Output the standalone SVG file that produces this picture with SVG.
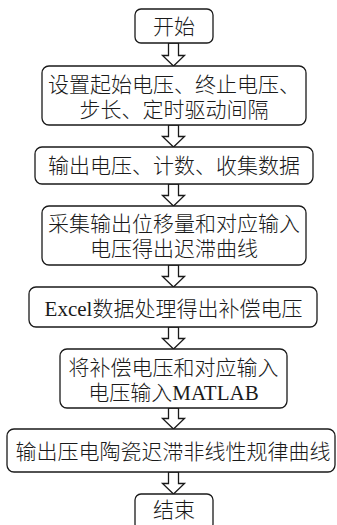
<svg xmlns="http://www.w3.org/2000/svg" width="337" height="525" viewBox="0 0 337 525">
<style>
.box{fill:#fff;stroke:#1a1a1a;stroke-width:1.3}
.t{font-family:"Liberation Serif","Noto Sans CJK SC",serif;font-size:21px;font-weight:300;fill:#1a1a1a;text-anchor:middle}
.arr{fill:#fff;stroke:#1a1a1a;stroke-width:1.3;stroke-linejoin:miter}
</style>
<rect width="337" height="525" fill="#fff"/>
<g id="connectors">
<path class="arr" d="M168.5,43 H178.5 V55.5 H184.5 L173.5,66 L162.5,55.5 H168.5 Z"/>
<path class="arr" d="M168.5,125 H178.5 V136.5 H184.5 L173.5,147 L162.5,136.5 H168.5 Z"/>
<path class="arr" d="M168.5,184 H178.5 V195.5 H184.5 L173.5,206 L162.5,195.5 H168.5 Z"/>
<path class="arr" d="M168.5,265 H178.5 V276.5 H184.5 L173.5,287 L162.5,276.5 H168.5 Z"/>
<path class="arr" d="M168.5,327 H178.5 V338.5 H184.5 L173.5,349 L162.5,338.5 H168.5 Z"/>
<path class="arr" d="M168.5,408 H178.5 V418.5 H184.5 L173.5,429 L162.5,418.5 H168.5 Z"/>
<path class="arr" d="M168.5,472 H178.5 V483.5 H184.5 L173.5,494 L162.5,483.5 H168.5 Z"/>
</g>
<g id="start">
<rect class="box" x="135" y="9" width="78" height="34" rx="6"/>
<text class="t" x="174" y="34">开始</text>
</g>
<g id="setup">
<rect class="box" x="42" y="66" width="264" height="59" rx="7"/>
<text class="t" x="174" y="92">设置起始电压、终止电压、</text>
<text class="t" x="174" y="116.5">步长、定时驱动间隔</text>
</g>
<g id="output">
<rect class="box" x="35" y="147" width="278" height="37" rx="7"/>
<text class="t" x="174" y="173">输出电压、计数、收集数据</text>
</g>
<g id="collect">
<rect class="box" x="42" y="206" width="264" height="59" rx="7"/>
<text class="t" x="174" y="231">采集输出位移量和对应输入</text>
<text class="t" x="174" y="256">电压得出迟滞曲线</text>
</g>
<g id="excel">
<rect class="box" x="29" y="287" width="288" height="40" rx="7"/>
<text class="t" x="173.5" y="316">Excel数据处理得出补偿电压</text>
</g>
<g id="matlab">
<rect class="box" x="60" y="349" width="227" height="59" rx="7"/>
<text class="t" x="173.5" y="375">将补偿电压和对应输入</text>
<text class="t" x="173.5" y="399.5">电压输入MATLAB</text>
</g>
<g id="curve">
<rect class="box" x="7" y="429" width="328" height="43" rx="7"/>
<text class="t" x="173" y="459">输出压电陶瓷迟滞非线性规律曲线</text>
</g>
<g id="end">
<rect class="box" x="135" y="494" width="78" height="36" rx="6"/>
<text class="t" x="174" y="517">结束</text>
</g>
</svg>
